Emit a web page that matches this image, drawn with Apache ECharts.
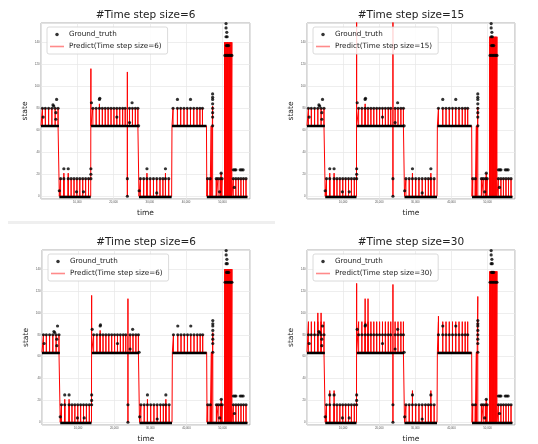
<!DOCTYPE html>
<html>
<head>
<meta charset="utf-8">
<script src="https://cdn.jsdelivr.net/npm/echarts@6/dist/echarts.min.js"></script>
<style>
  html, body { margin: 0; padding: 0; background: #fff; }
  #chart { width: 538px; height: 444px; }
</style>
</head>
<body>
<div id="chart"></div>
<script>
// panels: top-left, top-right, bottom-left, bottom-right
const stepSizes = [6, 15, 6, 30];

// flat stretches of the state signal
const segFrom = [0, 5050, 13800, 27000, 36100, 45700];
const segTo = [4950, 13700, 26900, 36000, 45600, 56900];
const segBase = [64, 0, 64, 0, 64, 0];
const segTruthTop = [80, 16, 80, 16, 80, 16];

// x of the short pulses inside each stretch
const teethA = [400, 1200, 2100, 3000, 3900, 4700];
const teethB = [5400, 6300, 7500, 8300, 9100, 9900, 10700, 11500, 12300, 13100];
const teethC = [14300, 15200, 16100, 16900, 17700, 18500, 19300, 20100, 20900, 21700, 22500, 23200, 24400, 25200, 26000, 26700];
const teethD = [27400, 28300, 29200, 30100, 31000, 31900, 32800, 33600, 34300, 35200];
const teethE = [36400, 37600, 38500, 39400, 40300, 41200, 42100, 43000, 43800, 44500];
const teethF = [45900, 46600, 48300, 48800, 49400, 49900, 53000, 53700, 54400, 55100, 55800, 56500];
const segTeeth = [teethA, teethB, teethC, teethD, teethE, teethF];

// the big burst near 51000
const burstX = [50600, 50800, 51000, 51200, 51400, 51600, 51800, 52000, 52200, 52400, 52600];
const burstTop = [140, 145, 140, 138];

// predicted pulse height in each stretch
const predTop6 = [80, 16, 80, 16, 80, 16];
const predTop15 = [80, 16, 80, 16, 80, 16];
const predTop30 = [92, 16, 92, 16, 92, 16];

// odd predicted spikes: [x, y, y, ...]
const spikes6 = [
  [6300, 0, 21, 0], [7500, 0, 21, 0], [13750, 0, 116, 64], [16100, 64, 84, 64],
  [23800, 64, 0, 113, 64], [29200, 0, 21, 0], [34300, 0, 21, 0],
  [46900, 0, 64, 0], [47300, 0, 82, 0], [49650, 0, 21, 0]
];
const spikes15 = [
  [6300, 0, 21, 0], [7500, 0, 21, 0], [13750, 0, 175, 64], [16100, 64, 84, 64],
  [23800, 64, 0, 175, 64], [29200, 0, 21, 0], [34300, 0, 21, 0],
  [46900, 0, 64, 0], [47300, 0, 81, 0], [49650, 0, 21, 0]
];
const spikes30 = [
  [3000, 64, 100, 64], [3900, 64, 100, 64], [6300, 0, 29, 0], [7500, 0, 29, 0],
  [13750, 0, 127, 64], [16100, 64, 113, 64], [16900, 64, 113, 64],
  [23800, 64, 0, 126, 64], [29200, 0, 29, 0], [34300, 0, 29, 0],
  [36400, 64, 97, 64], [46900, 0, 64, 0], [47300, 0, 115, 0], [49650, 0, 21, 0]
];

// ground truth points that are not on a pulse top
const truthExtra = [
  [600, 72], [3300, 83], [3500, 82], [4100, 70], [4100, 76], [4300, 88],
  [5050, 5], [6300, 25], [7500, 25], [9800, 4], [11700, 4],
  [13750, 16], [13750, 20], [13750, 25], [13900, 85],
  [16100, 88], [16200, 89], [20900, 72], [23800, 0], [23800, 16], [24400, 67], [25100, 85], [26900, 64],
  [27050, 5], [29200, 25], [31900, 3], [34300, 25],
  [37600, 88], [41200, 88],
  [47300, 64], [47300, 72], [47300, 76], [47300, 80], [47300, 84], [47300, 88], [47300, 90], [47300, 93],
  [49200, 4], [49650, 21],
  [50700, 128], [51100, 128], [51500, 128], [51900, 128], [52300, 128], [52600, 128],
  [51000, 157], [51000, 153], [51200, 149], [51000, 145], [51300, 145], [51100, 137], [51400, 137], [51700, 137],
  [53000, 24], [53400, 24], [53700, 24], [53300, 8], [54900, 24], [55300, 24], [55700, 24]
];

const predTops = [predTop6, predTop15, predTop6, predTop30];
const predSpikes = [spikes6, spikes15, spikes6, spikes30];

function predLine(tops, bTop, spikes) {
  const ev = [];
  segBase.forEach((b, i) => {
    ev.push([segFrom[i], b]);
    segTeeth[i].forEach(x => ev.push([x, b, tops[i], b]));
    ev.push([segTo[i], b]);
  });
  burstX.forEach(x => ev.push([x, 0, bTop, 0]));
  spikes.forEach(s => ev.push(s));
  ev.sort((a, b) => a[0] - b[0]);
  const pts = [];
  ev.forEach(e => e.slice(1).forEach(y => pts.push([e[0], y])));
  return pts;
}

const truthDots = [];
segTeeth.forEach((xs, i) => xs.forEach(x => truthDots.push([x, segTruthTop[i]])));
truthExtra.forEach(p => truthDots.push(p));
const truthRows = segFrom.map((x, i) => ({ coords: [[x, segBase[i]], [segTo[i], segBase[i]]] }));

// layout
const gLeft = [41, 307, 42, 307];
const gTop = [23, 23, 250, 250];
const gWidth = [209, 208, 208, 208];
const gHeight = 176;
const font = 'DejaVu Sans';

const predName = i => 'Predict(Time step size=' + stepSizes[i] + ')';
const idx = [0, 1, 2, 3];

const option = {
  animation: false,
  backgroundColor: '#fff',
  graphic: [{
    type: 'rect', shape: { x: 8, y: 221, width: 267, height: 3 },
    style: { fill: '#efefef' }, silent: true
  }],
  title: idx.map(i => ({
    text: '#Time step size=' + stepSizes[i],
    left: gLeft[i] + gWidth[i] / 2,
    top: gTop[i] - 13,
    textAlign: 'center',
    padding: 0,
    textStyle: { fontSize: 10.5, fontWeight: 'normal', color: '#222', fontFamily: font }
  })),
  legend: idx.map(i => ({
    orient: 'vertical',
    left: gLeft[i] + 6,
    top: gTop[i] + 4,
    data: [
      { name: 'Ground_truth', icon: 'circle', itemStyle: { color: '#000' } },
      { name: predName(i), icon: 'path://M0,0 L14,0 L14,1.6 L0,1.6 Z', itemStyle: { color: '#ff8a8a' } }
    ],
    itemWidth: 14,
    itemHeight: 3.5,
    itemGap: 3,
    padding: [3, 6, 3, 3],
    backgroundColor: 'rgba(255,255,255,0.85)',
    borderColor: '#d0d0d0',
    borderWidth: 0.8,
    borderRadius: 2,
    selectedMode: false,
    textStyle: { fontSize: 7.2, color: '#222', fontFamily: font, lineHeight: 9 }
  })),
  grid: idx.map(i => ({
    left: gLeft[i], top: gTop[i], width: gWidth[i], height: gHeight,
    show: true, borderColor: '#999', borderWidth: 0.8, containLabel: false
  })),
  xAxis: idx.map(i => ({
    type: 'value', gridIndex: i, min: 0, max: 57600, splitNumber: 5,
    name: 'time', nameLocation: 'middle', nameGap: 10,
    nameTextStyle: { fontSize: 7.5, color: '#222', fontFamily: font },
    axisLine: { show: false }, axisTick: { show: false },
    axisLabel: { fontSize: 2.8, color: '#555', margin: 1.5, showMinLabel: false, showMaxLabel: false },
    splitLine: { show: true, lineStyle: { color: '#e6e6e6', width: 0.7 } }
  })),
  yAxis: idx.map(i => ({
    type: 'value', gridIndex: i, min: -2.5, max: 157.5, splitNumber: 8,
    name: 'state', nameLocation: 'middle', nameGap: 12,
    nameTextStyle: { fontSize: 7.5, color: '#222', fontFamily: font },
    axisLine: { show: false }, axisTick: { show: false },
    axisLabel: { fontSize: 2.8, color: '#555', margin: 1.5, showMinLabel: false, showMaxLabel: false },
    splitLine: { show: true, lineStyle: { color: '#e6e6e6', width: 0.7 } }
  })),
  series: []
};

idx.forEach(i => {
  option.series.push({
    type: 'line', name: predName(i), xAxisIndex: i, yAxisIndex: i,
    data: predLine(predTops[i], burstTop[i], predSpikes[i]),
    symbol: 'none', clip: true, z: 2,
    itemStyle: { color: '#ff8a8a' },
    lineStyle: { color: '#ff0000', width: 1 }
  });
  option.series.push({
    type: 'lines', coordinateSystem: 'cartesian2d', xAxisIndex: i, yAxisIndex: i,
    data: truthRows, z: 3, silent: true,
    lineStyle: { color: '#000', width: 2.4, opacity: 1 }
  });
  option.series.push({
    type: 'scatter', name: 'Ground_truth', xAxisIndex: i, yAxisIndex: i,
    data: truthDots, symbolSize: 3.2, z: 4,
    itemStyle: { color: '#000' }
  });
});

const chart = echarts.init(document.getElementById('chart'));
chart.setOption(option);
</script>
</body>
</html>
